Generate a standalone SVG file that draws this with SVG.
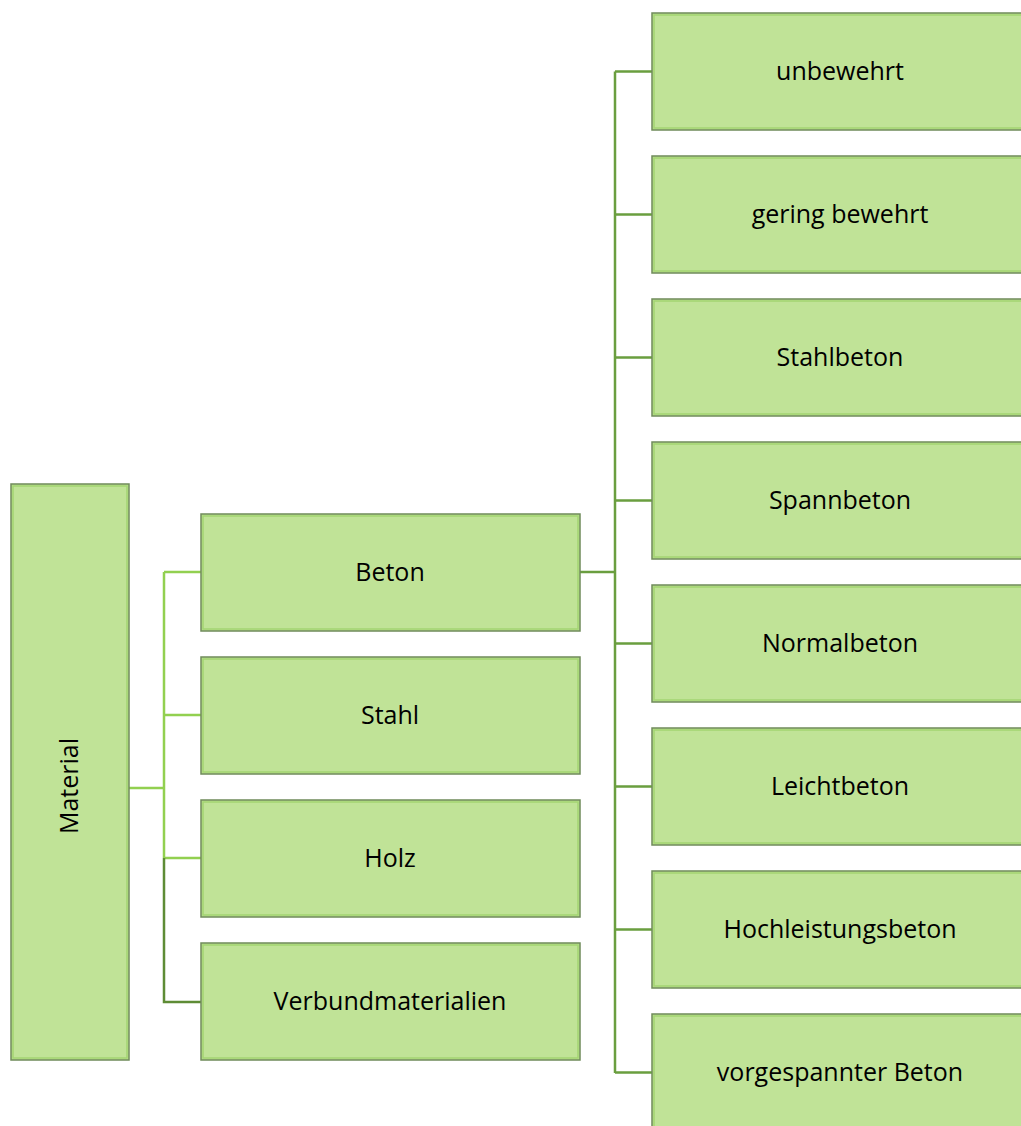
<svg xmlns="http://www.w3.org/2000/svg" width="1021" height="1126" viewBox="0 0 1021 1126">
<style>
.box{fill:#C0E397;stroke:#6F8A5A;stroke-width:1.5}
.inner{fill:none;stroke:#A3D572;stroke-width:1.5}
.t{font-family:"Open Sans","Liberation Sans",sans-serif;font-size:25px;fill:#000;text-anchor:middle}
.l1{fill:none;stroke:#92D050;stroke-width:2.5}
.l2{fill:none;stroke:#5E8C35;stroke-width:2.5}
.l3{fill:none;stroke:#6A9E3F;stroke-width:2.5}
</style>
<rect width="1021" height="1126" fill="#fff"/>
<g id="connectors">
<path class="l1" d="M129 788H164M164 572V858M164 572H201M164 715H201M164 858H201"/>
<path class="l2" d="M164 858V1002H201"/>
<path class="l3" d="M580 572H615M615 71.5V1073M615 71.5H652M615 214.5H652M615 357.5H652M615 500.5H652M615 643.5H652M615 786.5H652M615 929.5H652M615 1072.5H652"/>
</g>
<g id="material"><rect class="box" x="11" y="484" width="118" height="576"/><rect class="inner" x="13" y="486" width="114" height="572"/><text class="t" transform="translate(78 786) rotate(-90)">Material</text></g>
<g id="beton"><rect class="box" x="201" y="514" width="379" height="117"/><rect class="inner" x="203" y="516" width="375" height="113"/><text class="t" x="390" y="581">Beton</text></g>
<g id="stahl"><rect class="box" x="201" y="657" width="379" height="117"/><rect class="inner" x="203" y="659" width="375" height="113"/><text class="t" x="390" y="724">Stahl</text></g>
<g id="holz"><rect class="box" x="201" y="800" width="379" height="117"/><rect class="inner" x="203" y="802" width="375" height="113"/><text class="t" x="390" y="867">Holz</text></g>
<g id="verbund"><rect class="box" x="201" y="943" width="379" height="117"/><rect class="inner" x="203" y="945" width="375" height="113"/><text class="t" x="390" y="1010">Verbundmaterialien</text></g>
<g id="unbewehrt"><rect class="box" x="652" y="13" width="372" height="117"/><rect class="inner" x="654" y="15" width="372" height="113"/><text class="t" x="840" y="80">unbewehrt</text></g>
<g id="gering"><rect class="box" x="652" y="156" width="372" height="117"/><rect class="inner" x="654" y="158" width="372" height="113"/><text class="t" x="840" y="223">gering bewehrt</text></g>
<g id="stahlbeton"><rect class="box" x="652" y="299" width="372" height="117"/><rect class="inner" x="654" y="301" width="372" height="113"/><text class="t" x="840" y="366">Stahlbeton</text></g>
<g id="spannbeton"><rect class="box" x="652" y="442" width="372" height="117"/><rect class="inner" x="654" y="444" width="372" height="113"/><text class="t" x="840" y="509">Spannbeton</text></g>
<g id="normalbeton"><rect class="box" x="652" y="585" width="372" height="117"/><rect class="inner" x="654" y="587" width="372" height="113"/><text class="t" x="840" y="652">Normalbeton</text></g>
<g id="leichtbeton"><rect class="box" x="652" y="728" width="372" height="117"/><rect class="inner" x="654" y="730" width="372" height="113"/><text class="t" x="840" y="795">Leichtbeton</text></g>
<g id="hochleistung"><rect class="box" x="652" y="871" width="372" height="117"/><rect class="inner" x="654" y="873" width="372" height="113"/><text class="t" x="840" y="938">Hochleistungsbeton</text></g>
<g id="vorgespannt"><rect class="box" x="652" y="1014" width="372" height="117"/><rect class="inner" x="654" y="1016" width="372" height="113"/><text class="t" x="840" y="1081">vorgespannter Beton</text></g>
</svg>
